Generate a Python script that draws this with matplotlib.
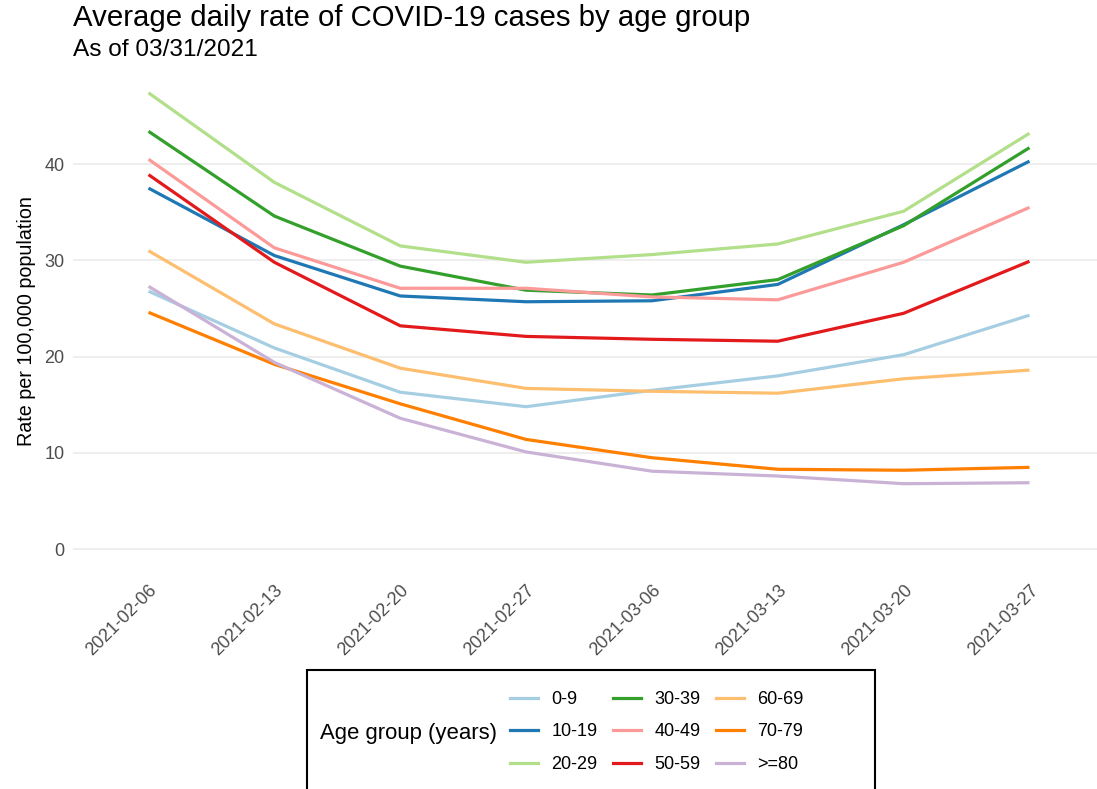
import matplotlib.pyplot as plt
from matplotlib.patches import Rectangle
from matplotlib.lines import Line2D

plt.rcParams['font.family'] = ['Liberation Sans', 'DejaVu Sans']

# Données
weeks = ["2021-02-06", "2021-02-13", "2021-02-20", "2021-02-27",
         "2021-03-06", "2021-03-13", "2021-03-20", "2021-03-27"]
groups = ["0-9", "10-19", "20-29", "30-39", "40-49",
          "50-59", "60-69", "70-79", ">=80"]
colors = ["#A6CEE3", "#1F78B4", "#B2DF8A", "#33A02C", "#FB9A99",
          "#E31A1C", "#FDBF6F", "#FF7F00", "#CAB2D6"]

rate_0_9 = [26.8, 20.9, 16.3, 14.8, 16.5, 18.0, 20.2, 24.3]
rate_10_19 = [37.5, 30.5, 26.3, 25.7, 25.8, 27.5, 33.7, 40.3]
rate_20_29 = [47.4, 38.1, 31.5, 29.8, 30.6, 31.7, 35.1, 43.2]
rate_30_39 = [43.4, 34.6, 29.4, 26.9, 26.4, 28.0, 33.6, 41.7]
rate_40_49 = [40.5, 31.3, 27.1, 27.1, 26.2, 25.9, 29.8, 35.5]
rate_50_59 = [38.9, 29.8, 23.2, 22.1, 21.8, 21.6, 24.5, 29.9]
rate_60_69 = [31.0, 23.4, 18.8, 16.7, 16.4, 16.2, 17.7, 18.6]
rate_70_79 = [24.6, 19.2, 15.1, 11.4, 9.5, 8.3, 8.2, 8.5]
rate_80 = [27.3, 19.4, 13.6, 10.1, 8.1, 7.6, 6.8, 6.9]

series = [rate_0_9, rate_10_19, rate_20_29, rate_30_39, rate_40_49,
          rate_50_59, rate_60_69, rate_70_79, rate_80]


def main():
    fig = plt.figure(figsize=(10.97, 7.89), dpi=100)
    W, H = 1097, 789
    # Position du panneau (en pixels)
    left, right, top, bottom = 73, 1105, 70, 572
    ax = fig.add_axes([left / W, (H - bottom) / H,
                       (right - left) / W, (bottom - top) / H])

    x = list(range(len(weeks)))
    for vals, col, lab in zip(series, colors, groups):
        ax.plot(x, vals, color=col, lw=2.3, label=lab,
                solid_joinstyle='round', solid_capstyle='butt')

    ax.set_xlim(-0.6, len(weeks) - 1 + 0.6)
    ax.set_ylim(-2.37, 49.77)
    ax.set_yticks([0, 10, 20, 30, 40])
    ax.set_xticks(x)
    ax.set_xticklabels(weeks, rotation=45, ha='right',
                       rotation_mode='anchor')
    ax.tick_params(axis='both', length=0, labelsize=13,
                   labelcolor='#4D4D4D', pad=6)
    ax.tick_params(axis='x', pad=7)
    ax.grid(axis='y', color='#EBEBEB', lw=1.2)
    ax.set_axisbelow(True)
    for s in ax.spines.values():
        s.set_visible(False)
    ax.set_ylabel("Rate per 100,000 population", fontsize=14.2,
                  labelpad=6)

    fig.text(73 / W, 1 - 26 / H, "Average daily rate of COVID-19 cases by age group",
             fontsize=21.2, ha='left', va='baseline')
    fig.text(73 / W, 1 - 56 / H, "As of 03/31/2021",
             fontsize=17.6, ha='left', va='baseline')

    # Légende avec cadre noir
    box = Rectangle((307 / W, -0.05), (875 - 307) / W, 0.05 + (H - 670) / H,
                    transform=fig.transFigure, fill=False,
                    edgecolor='black', lw=1.5)
    fig.add_artist(box)
    fig.text(320 / W, 1 - 733 / H, "Age group (years)", fontsize=15.9,
             ha='left', va='center')
    handles = [Line2D([], [], color=c, lw=2.3) for c in colors]
    fig.legend(handles, groups, ncol=3, loc='center left',
               bbox_to_anchor=(510 / W, 1 - 732 / H), frameon=False,
               fontsize=13, handlelength=1.55, handletextpad=0.75,
               columnspacing=0.85, labelspacing=0.85,
               borderpad=0, borderaxespad=0)

    fig.savefig("out.png", dpi=100)


if __name__ == "__main__":
    main()
